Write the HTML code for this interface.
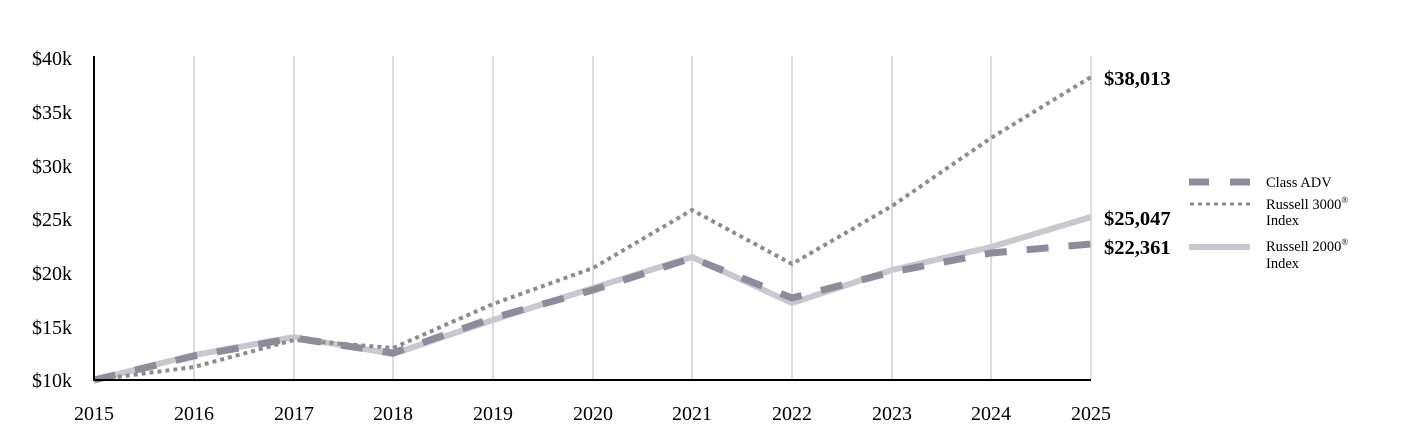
<!DOCTYPE html><html><head><style>body{margin:0;background:#fff}svg{display:block}text{font-family:"Liberation Serif",serif}</style></head><body>
<svg width="1404" height="444" viewBox="0 0 1404 444">
<g stroke="#dcdcdc" stroke-width="2">
<line x1="194" y1="56" x2="194" y2="380"/><line x1="294" y1="56" x2="294" y2="380"/><line x1="393" y1="56" x2="393" y2="380"/><line x1="493" y1="56" x2="493" y2="380"/><line x1="593" y1="56" x2="593" y2="380"/><line x1="692" y1="56" x2="692" y2="380"/><line x1="792" y1="56" x2="792" y2="380"/><line x1="892" y1="56" x2="892" y2="380"/><line x1="991" y1="56" x2="991" y2="380"/><line x1="1091" y1="56" x2="1091" y2="380"/>
</g>
<g font-size="20" fill="#000" text-anchor="end">
<text x="72" y="65">$40k</text><text x="72" y="119">$35k</text><text x="72" y="173">$30k</text><text x="72" y="226">$25k</text><text x="72" y="280">$20k</text><text x="72" y="334">$15k</text><text x="72" y="387">$10k</text>
</g>
<g font-size="20" fill="#000" text-anchor="middle">
<text x="94" y="420">2015</text><text x="194" y="420">2016</text><text x="294" y="420">2017</text><text x="393" y="420">2018</text><text x="493" y="420">2019</text><text x="593" y="420">2020</text><text x="692" y="420">2021</text><text x="792" y="420">2022</text><text x="892" y="420">2023</text><text x="991" y="420">2024</text><text x="1091" y="420">2025</text>
</g>
<polyline fill="none" stroke="#c9c8d0" stroke-width="6" points="94,380 194,355 294,337 393,354 493,320 593,288 692,257 792,303 892,270 991,247 1091,217"/>
<polyline fill="none" stroke="#8c8c8c" stroke-width="4" stroke-dasharray="4,4" points="94,380 194,367 294,340 393,348 493,304 593,268 692,210 792,264 892,206 991,138 1091,77"/>
<polyline fill="none" stroke="#8e8c9c" stroke-width="7" stroke-dasharray="22,20" points="94,380 194,356 294,338 393,353 493,318 593,290 692,258 792,298 892,272 991,253 1091,244"/>
<line x1="94" y1="56" x2="94" y2="381" stroke="#000" stroke-width="2"/>
<line x1="93" y1="380" x2="1091" y2="380" stroke="#000" stroke-width="2"/>
<g font-size="20.5" font-weight="bold" fill="#000">
<text x="1104" y="85">$38,013</text><text x="1104" y="225">$25,047</text><text x="1104" y="254">$22,361</text>
</g>
<line x1="1189" y1="182" x2="1250" y2="182" stroke="#8e8c9c" stroke-width="7" stroke-dasharray="20,21"/>
<line x1="1190" y1="204" x2="1250" y2="204" stroke="#8c8c8c" stroke-width="3" stroke-dasharray="4,4"/>
<line x1="1189" y1="247" x2="1250" y2="247" stroke="#c9c8d0" stroke-width="6"/>
<g font-size="14.5" fill="#000">
<text x="1266" y="187">Class ADV</text>
<text x="1266" y="209">Russell 3000<tspan font-size="9" dy="-6">®</tspan></text><text x="1266" y="225">Index</text>
<text x="1266" y="251">Russell 2000<tspan font-size="9" dy="-6">®</tspan></text><text x="1266" y="268">Index</text>
</g>
</svg></body></html>
